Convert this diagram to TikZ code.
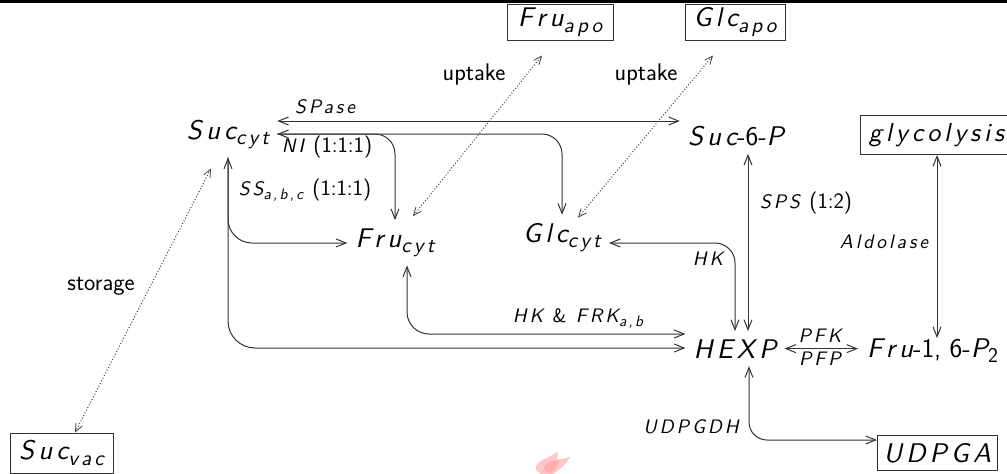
\documentclass[tikz,border=0pt]{standalone}
\usepackage{fontspec}
\usepackage{graphicx}
\usetikzlibrary{arrows.meta,calc}
% spaced oblique sans, like math italic in a sans face
\newfontfamily\ita{lmsans10-oblique}[Extension=.otf,LetterSpace=15]
\newcommand\dn[1]{\raisebox{-0.22em}{\scalebox{0.78}{#1}}}
\newcommand\mv[2]{{\ita #1}\dn{\ita #2}}
\newcommand\up[1]{{\sffamily #1}}
% upright parts of the enzyme labels
\newcommand\upl[1]{{\sffamily\fontsize{22}{26}\selectfont #1}}
\tikzset{
  big/.style={font=\fontsize{27}{31}\selectfont\ita, inner sep=8pt, anchor=base},
  pool/.style={draw=black!80, line width=1pt, font=\fontsize{27}{31}\selectfont\ita,
    inner xsep=6pt, inner ysep=0pt},
  lbl/.style={font=\fontsize{19.5}{23}\selectfont\ita, inner sep=0pt, anchor=base},
  txt/.style={font=\fontsize{24}{28}\selectfont\sffamily, inner sep=0pt, anchor=base},
  link/.style={draw=black!80, line width=1pt,
    arrows={Straight Barb[length=10pt,width=8pt]-Straight Barb[length=10pt,width=8pt]}},
  dots/.style={draw=black!75, line width=1pt, dotted,
    arrows={Straight Barb[length=8pt,width=7pt,line width=0.8pt]-Straight Barb[length=8pt,width=7pt,line width=0.8pt]}},
}
\begin{document}
\begin{tikzpicture}[x=1pt,y=-1pt]
\useasboundingbox (0,0) rectangle (1007,474);
\clip (0,0) rectangle (1007,474);
\fill (0,0) rectangle (1007,2.5);

% metabolite pools
\node[big] (suc) at (228,139) {\mv{Suc}{cyt}};
\node[big] (fru) at (395,247) {\mv{Fru}{cyt}};
\node[big] (glc) at (562,242) {\mv{Glc}{cyt}};
\node[big] (suc6p) at (736,145) {{\ita Suc}\up{-6-}{\ita P}};
\node[big] (hexp) at (735,358) {HEXP};
\node[big, anchor=base west, inner sep=0pt] (fru16) at (867,357) {{\ita Fru}\up{-1, 6-}{\ita P}\dn{\up{2}}};
\node[pool, minimum width=106pt, minimum height=36pt] (fruapo) at (560,22) {\mv{Fru}{apo}};
\node[pool, minimum width=100pt, minimum height=36pt] (glcapo) at (735,22) {\mv{Glc}{apo}};
\node[pool, anchor=north west, minimum height=39pt, minimum width=152pt,
  font=\fontsize{26}{30}\selectfont\ita] (glyc) at (860,115) {glycolysis};
\node[pool, anchor=north west, minimum height=35pt] (udpga) at (877,435) {UDPGA};
\node[pool, minimum width=103pt, minimum height=40pt] (sucvac) at (61.5,453) {\mv{Suc}{vac}};

% enzyme and transport labels
\node[lbl] (lspase) at (325,113) {SPase};
\node[lbl] (lni) at (327,152) {NI \upl{(1:1:1)}};
\node[lbl] (lss) at (305,195) {\mv{SS}{a,b,c} \upl{(1:1:1)}};
\node[lbl] (lsps) at (806,208) {SPS \upl{(1:2)}};
\node[lbl] (lald) at (884,248) {Aldolase};
\node[lbl] (lhk) at (708,265) {HK};
\node[lbl] (lhkfrk) at (578,322) {HK \up{\&} \mv{FRK}{a,b}};
\node[lbl] (lpfk) at (820,342) {PFK};
\node[lbl] (lpfp) at (820,365) {PFP};
\node[lbl] (ludp) at (691,433) {UDPGDH};
\node[txt] (lup1) at (474,80) {uptake};
\node[txt] (lup2) at (646,80) {uptake};
\node[txt] (lsto) at (101,290) {storage};

% reactions
\draw[link] (suc.east |- 0,121) -- (suc6p.west |- 0,121);
\draw[link, rounded corners=20pt] (suc.east |- 0,134) -| (glc.north);
\draw[link, rounded corners=20pt, arrows={-Straight Barb[length=10pt,width=8pt]}] (suc.east |- 0,134) -| (fru.north);
\draw[link, rounded corners=24pt] (suc.south) |- (fru.west |- 0,243);
\draw[link, rounded corners=27pt, arrows={-Straight Barb[length=10pt,width=8pt]}] (suc.south) |- (hexp.west |- 0,348);
\draw[link, rounded corners=22pt] ($(fru.south)+(12,0)$) |- (hexp.west |- 0,334);
\draw[link, rounded corners=20pt] (glc.east |- 0,243) -| (hexp.north);
\draw[link] (suc6p.south -| 748,0) -- (hexp.north -| 748,0);
\draw[link] (glyc.south -| 937,0) -- (fru16.north -| 937,0);
\draw[link] (hexp.east) -- ($(fru16.west |- hexp.east)+(-9,0)$);
\draw[link, rounded corners=18pt] (hexp.south -| 749,0) |- (udpga.west |- 0,440);

% transport
\draw[dots] ($(suc.south)+(-17,11)$) -- (sucvac.north -| 75,0);
\draw[dots] ($(fru.north)+(18,-4)$) -- ($(fruapo.south)+(-18,15)$);
\draw[dots] ($(glc.north)+(16,3)$) -- ($(glcapo.south)+(-22,15)$);

% faint flame mark
\fill[red!22!white] (541,474) .. controls (531,469) and (536,462) .. (547,458)
  -- (558,452) -- (557,460) -- (570,457) .. controls (566,464) and (560,470) .. (553,474) -- cycle;
\fill[red!32!white] (546,472) .. controls (541,467) and (546,463) .. (552,461)
  -- (560,460) .. controls (558,466) and (555,470) .. (551,473) -- cycle;
\end{tikzpicture}
\end{document}
